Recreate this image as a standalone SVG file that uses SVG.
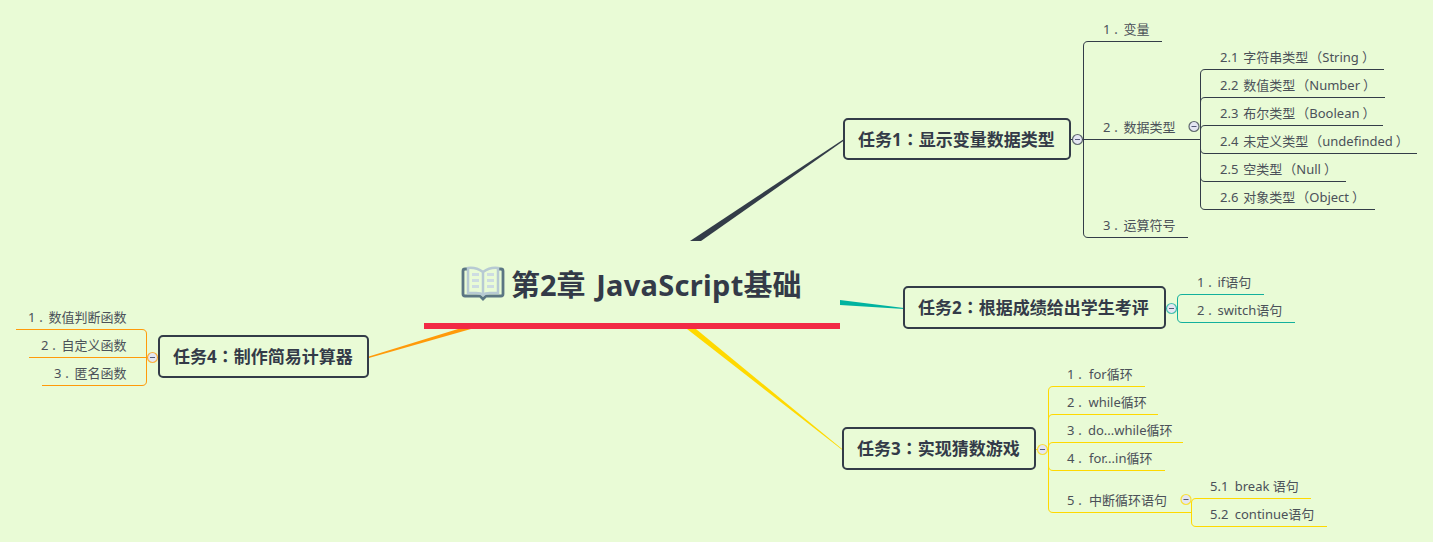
<svg xmlns="http://www.w3.org/2000/svg" width="1433" height="542" viewBox="0 0 1433 542">
<style>
text{font-family:"Noto Sans","Noto Sans CJK SC","Liberation Sans",sans-serif;white-space:pre}
.leaf{font-size:13px;fill:#4b5159}
.task{font-size:17px;font-weight:700;fill:#333a48}
.c{font-family:"Noto Sans CJK TC",sans-serif}
.p{font-family:"Noto Sans CJK JP",sans-serif;font-size:9px;font-weight:700}
.box{fill:#e9fbd6;stroke:#333c48;stroke-width:2}
.line{fill:none;stroke-width:1}
.dark{stroke:#333c48}.teal{stroke:#12b09c}.yel{stroke:#ffd900}.org{stroke:#ff9a0a}
.btn{fill:#e4e6f2;stroke-width:1.2;stroke-opacity:.75}
.minus{stroke:#555a78;stroke-width:1}
</style>
<rect width="1433" height="542" fill="#e9fbd6"/>
<g id="connectors">
<polygon points="844,139 690,241 701,241 844,140.500" fill="#333c48"/>
<polygon points="840,300 840,305 904,309 904,308" fill="#00b3a0"/>
<polygon points="687,329 696,329 843,449.800 842,449.800" fill="#ffd900"/>
<polygon points="368,356.800 458,329 478,327 368,358.200" fill="#ff9a0a"/>
<g class="line dark">
<path d="M1162,41.500H1088Q1083.500,41.500 1083.500,46V233Q1083.500,237.500 1088,237.500H1188"/>
<path d="M1071,139.500H1200.500"/>
<path d="M1384,69.500H1205Q1200.500,69.500 1200.500,74V205Q1200.500,209.500 1205,209.500H1375"/>
<path d="M1385,97.500H1205Q1200.500,97.500 1200.500,102"/>
<path d="M1383,125.500H1205Q1200.500,125.500 1200.500,130"/>
<path d="M1417,153.500H1205Q1200.500,153.500 1200.500,149"/>
<path d="M1346,181.500H1205Q1200.500,181.500 1200.500,177"/>
</g>
<g class="line teal">
<path d="M1166,308.500H1177.500"/>
<path d="M1264,294.500H1182Q1177.500,294.500 1177.500,299V318Q1177.500,322.500 1182,322.500H1295"/>
</g>
<g class="line yel">
<path d="M1036,449.500H1048.500"/>
<path d="M1145,386.500H1053Q1048.500,386.500 1048.500,391V508Q1048.500,512.500 1053,512.500H1191.500"/>
<path d="M1158,414.500H1053Q1048.500,414.500 1048.500,419"/>
<path d="M1183,442.500H1053Q1048.500,442.500 1048.500,447"/>
<path d="M1165,470.500H1053Q1048.500,470.500 1048.500,466"/>
<path d="M1311,498.500H1196Q1191.500,498.500 1191.500,503V522Q1191.500,526.500 1196,526.500H1327"/>
</g>
<g class="line org">
<path d="M158,357.500H29"/>
<path d="M16,329.500H142Q146.500,329.500 146.500,334V381Q146.500,385.500 142,385.500H42"/>
</g>
</g>
<g id="root">
<rect x="424" y="323" width="416" height="6" fill="#f22a45"/>
<g id="book" fill="none">
<path d="M468,269H465Q463,269 463,271V294Q463,296 465,296H480L483,299L486,296H501Q503,296 503,294V271Q503,269 501,269H498" stroke="#5b7683" stroke-width="2.800"/>
<path d="M483,272Q476,267 468,268V293H476Q481,293 483,295Q485,293 490,293H498V268Q490,267 483,272V294" stroke="#b7cad3" stroke-width="2.500"/>
<path d="M472,274.500H479M472,280.500H479M472,286.500H479M487,274.500H494M487,280.500H494M487,286.500H494" stroke="#cddce2" stroke-width="3"/>
</g>
<text x="511" y="296" font-size="29" font-weight="700" fill="#333a48">第2章 <tspan dx="3" letter-spacing=".3">JavaScript</tspan>基础</text>
</g>
<g id="task1">
<rect class="box" x="844" y="119" width="226" height="40" rx="4"/>
<text class="task" x="858" y="145.500">任务1<tspan class="c">：</tspan>显示变量数据类型</text>
<circle class="btn dark" cx="1077.500" cy="139.500" r="5"/><path class="minus" d="M1075,139.500H1080"/>
</g>
<g id="t1-1"><text class="leaf" x="1103" y="34">1<tspan class="p" dx="3">．</tspan><tspan dx="1">变量</tspan></text></g>
<g id="t1-2"><text class="leaf" x="1103" y="132">2<tspan class="p" dx="3">．</tspan><tspan dx="1">数据类型</tspan></text>
<circle class="btn dark" cx="1194" cy="126.500" r="5"/><path class="minus" d="M1191.500,126.500H1196.500"/></g>
<g id="t1-3"><text class="leaf" x="1103" y="230">3<tspan class="p" dx="3">．</tspan><tspan dx="1">运算符号</tspan></text></g>
<g id="t1-2-1"><text class="leaf" x="1220" y="62">2.1 <tspan dx="1.500">字符串类型</tspan><tspan dx="1">（</tspan>String<tspan dx="3">）</tspan></text></g>
<g id="t1-2-2"><text class="leaf" x="1220" y="90">2.2 <tspan dx="1.500">数值类型</tspan><tspan dx="1">（</tspan>Number<tspan dx="3">）</tspan></text></g>
<g id="t1-2-3"><text class="leaf" x="1220" y="118">2.3 <tspan dx="1.500">布尔类型</tspan><tspan dx="1">（</tspan>Boolean<tspan dx="3">）</tspan></text></g>
<g id="t1-2-4"><text class="leaf" x="1220" y="146">2.4 <tspan dx="1.500">未定义类型</tspan><tspan dx="1">（</tspan>undefinded<tspan dx="3">）</tspan></text></g>
<g id="t1-2-5"><text class="leaf" x="1220" y="174">2.5 <tspan dx="1.500">空类型</tspan><tspan dx="1">（</tspan>Null<tspan dx="3">）</tspan></text></g>
<g id="t1-2-6"><text class="leaf" x="1220" y="202">2.6 <tspan dx="1.500">对象类型</tspan><tspan dx="1">（</tspan>Object<tspan dx="3">）</tspan></text></g>
<g id="task2">
<rect class="box" x="904" y="287" width="261" height="41" rx="4"/>
<text class="task" x="918" y="314">任务2<tspan class="c">：</tspan>根据成绩给出学生考评</text>
<circle class="btn teal" cx="1171.500" cy="308.500" r="5"/><path class="minus" d="M1169,308.500H1174"/>
</g>
<g id="t2-1"><text class="leaf" x="1197" y="287">1<tspan class="p" dx="3">．</tspan><tspan dx="1">if语句</tspan></text></g>
<g id="t2-2"><text class="leaf" x="1197" y="315">2<tspan class="p" dx="3">．</tspan><tspan dx="1">switch语句</tspan></text></g>
<g id="task3">
<rect class="box" x="843" y="428" width="192" height="41" rx="4"/>
<text class="task" x="857" y="455">任务3<tspan class="c">：</tspan>实现猜数游戏</text>
<circle class="btn yel" cx="1042.500" cy="449.500" r="5"/><path class="minus" d="M1040,449.500H1045"/>
</g>
<g id="t3-1"><text class="leaf" x="1067" y="379">1<tspan class="p" dx="3">．</tspan><tspan dx="2.500">for循环</tspan></text></g>
<g id="t3-2"><text class="leaf" x="1067" y="407">2<tspan class="p" dx="3">．</tspan><tspan dx="2">while循环</tspan></text></g>
<g id="t3-3"><text class="leaf" x="1067" y="435">3<tspan class="p" dx="3">．</tspan><tspan dx="1.500">do...while循环</tspan></text></g>
<g id="t3-4"><text class="leaf" x="1067" y="463">4<tspan class="p" dx="3">．</tspan><tspan dx="2.500">for...in循环</tspan></text></g>
<g id="t3-5"><text class="leaf" x="1067" y="505">5<tspan class="p" dx="3">．</tspan><tspan dx="2.500">中断循环语句</tspan></text>
<circle class="btn yel" cx="1186" cy="499.500" r="5"/><path class="minus" d="M1183.500,499.500H1188.500"/></g>
<g id="t3-5-1"><text class="leaf" x="1210" y="491">5.1 <tspan dx="3">break 语句</tspan></text></g>
<g id="t3-5-2"><text class="leaf" x="1210" y="519">5.2 <tspan dx="3">continue语句</tspan></text></g>
<g id="task4">
<rect class="box" x="159" y="336" width="209" height="41" rx="4"/>
<text class="task" x="173" y="363">任务4<tspan class="c">：</tspan>制作简易计算器</text>
<circle class="btn org" cx="152.500" cy="357.500" r="5"/><path class="minus" d="M150,357.500H155"/>
</g>
<g id="t4-1"><text class="leaf" x="126.500" y="322" text-anchor="end">1<tspan class="p" dx="3">．</tspan><tspan dx="1">数值判断函数</tspan></text></g>
<g id="t4-2"><text class="leaf" x="126.500" y="350" text-anchor="end">2<tspan class="p" dx="3">．</tspan><tspan dx="1">自定义函数</tspan></text></g>
<g id="t4-3"><text class="leaf" x="126.500" y="378" text-anchor="end">3<tspan class="p" dx="3">．</tspan><tspan dx="1">匿名函数</tspan></text></g>
</svg>
